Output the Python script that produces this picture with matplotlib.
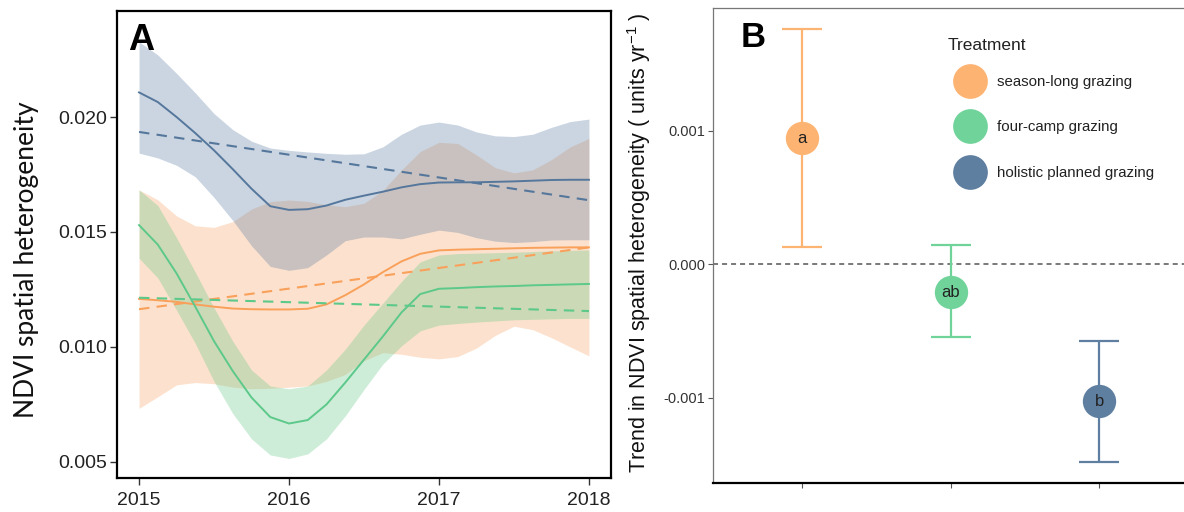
import matplotlib.pyplot as plt
from matplotlib.lines import Line2D

plt.rcParams['mathtext.fontset'] = 'custom'
plt.rcParams['mathtext.rm'] = 'Liberation Sans'
plt.rcParams['mathtext.it'] = 'Liberation Sans:italic'

# ---- panel A: smoothed NDVI heterogeneity over time ----
years = [2015.0, 2015.125, 2015.25, 2015.375, 2015.5, 2015.625, 2015.75, 2015.875,
         2016.0, 2016.125, 2016.25, 2016.375, 2016.5, 2016.625, 2016.75, 2016.875,
         2017.0, 2017.125, 2017.25, 2017.375, 2017.5, 2017.625, 2017.75, 2017.875, 2018.0]

season_fit = [0.01209, 0.01203, 0.01196, 0.01185, 0.01175, 0.01167, 0.01164, 0.01163,
              0.01163, 0.01166, 0.01185, 0.01225, 0.01272, 0.01325, 0.01372, 0.01405,
              0.01420, 0.01423, 0.01425, 0.01427, 0.01429, 0.01431, 0.01432, 0.01433, 0.01433]
season_hi = [0.01683, 0.01640, 0.01570, 0.01527, 0.01520, 0.01545, 0.01600, 0.01632,
             0.01639, 0.01633, 0.01618, 0.01610, 0.01625, 0.01680, 0.01770, 0.01850,
             0.01890, 0.01885, 0.01835, 0.01780, 0.01757, 0.01770, 0.01815, 0.01870, 0.01907]
season_lo = [0.00733, 0.00783, 0.00835, 0.00845, 0.00840, 0.00825, 0.00818, 0.00820,
             0.00825, 0.00830, 0.00850, 0.00880, 0.00940, 0.00975, 0.00968, 0.00955,
             0.00948, 0.00958, 0.00995, 0.01050, 0.01090, 0.01075, 0.01040, 0.01000, 0.00961]

fourcamp_fit = [0.01530, 0.01445, 0.01320, 0.01175, 0.01025, 0.00895, 0.00780, 0.00695,
                0.00667, 0.00682, 0.00750, 0.00845, 0.00945, 0.01045, 0.01150, 0.01230,
                0.01253, 0.01256, 0.01260, 0.01263, 0.01265, 0.01268, 0.01270, 0.01272, 0.01274]
fourcamp_hi = [0.01683, 0.01615, 0.01475, 0.01325, 0.01170, 0.01025, 0.00900, 0.00830,
               0.00818, 0.00830, 0.00900, 0.00990, 0.01095, 0.01190, 0.01285, 0.01370,
               0.01400, 0.01406, 0.01408, 0.01410, 0.01412, 0.01415, 0.01418, 0.01420, 0.01422]
fourcamp_lo = [0.01386, 0.01300, 0.01160, 0.01015, 0.00850, 0.00710, 0.00600, 0.00530,
               0.00515, 0.00535, 0.00600, 0.00700, 0.00815, 0.00925, 0.01005, 0.01070,
               0.01095, 0.01102, 0.01108, 0.01113, 0.01118, 0.01120, 0.01122, 0.01124, 0.01124]

holistic_fit = [0.02107, 0.02065, 0.02000, 0.01930, 0.01855, 0.01773, 0.01688, 0.01612,
                0.01596, 0.01599, 0.01615, 0.01640, 0.01658, 0.01675, 0.01694, 0.01708,
                0.01715, 0.01716, 0.01716, 0.01718, 0.01720, 0.01723, 0.01726, 0.01727, 0.01727]
holistic_hi = [0.02327, 0.02270, 0.02190, 0.02105, 0.02015, 0.01945, 0.01895, 0.01865,
               0.01855, 0.01848, 0.01842, 0.01838, 0.01840, 0.01870, 0.01925, 0.01965,
               0.01978, 0.01965, 0.01935, 0.01918, 0.01915, 0.01925, 0.01955, 0.01980, 0.01991]
holistic_lo = [0.01843, 0.01822, 0.01790, 0.01740, 0.01650, 0.01550, 0.01440, 0.01350,
               0.01333, 0.01345, 0.01400, 0.01462, 0.01478, 0.01478, 0.01470, 0.01490,
               0.01508, 0.01498, 0.01475, 0.01460, 0.01454, 0.01458, 0.01465, 0.01466, 0.01466]

# linear trends (dashed)
trend_years = [2015.0, 2018.0]
season_lin = [0.01164, 0.01433]
fourcamp_lin = [0.01214, 0.01156]
holistic_lin = [0.01935, 0.01638]

# ---- panel B: trend estimates ----
treatments = ['season-long grazing', 'four-camp grazing', 'holistic planned grazing']
letters = ['a', 'ab', 'b']
slope = [0.000943, -0.000212, -0.001025]
slope_lo = [0.000129, -0.000549, -0.001479]
slope_hi = [0.001762, 0.000147, -0.000573]

pt_colors = ['#FDB473', '#6FD39A', '#5F7FA0']
band_colors = ['#F8A25F', '#5FC680', '#52769E']
line_colors = ['#F9A05A', '#5CC98A', '#56779C']

fig = plt.figure(figsize=(11.84, 5.12), dpi=100)
W, H = 1184, 512
axA = fig.add_axes([117 / W, 34 / H, 494 / W, 467 / H])
axB = fig.add_axes([712.7 / W, 29.3 / H, 475.8 / W, 474.4 / H])

fits = [season_fit, fourcamp_fit, holistic_fit]
his = [season_hi, fourcamp_hi, holistic_hi]
los = [season_lo, fourcamp_lo, holistic_lo]
lins = [season_lin, fourcamp_lin, holistic_lin]

for hi, lo, bc in zip(his, los, band_colors):
    axA.fill_between(years, lo, hi, color=bc, alpha=0.3, lw=0)
for fit, lin, lc in zip(fits, lins, line_colors):
    axA.plot(years, fit, color=lc, lw=1.4)
    axA.plot(trend_years, lin, color=lc, lw=1.5, ls=(0, (5, 3.5)))

axA.set_xlim(2014.853, 2018.147)
axA.set_ylim(0.0043, 0.02461)
axA.set_xticks([2015, 2016, 2017, 2018])
axA.set_yticks([0.005, 0.010, 0.015, 0.020])
axA.set_yticklabels(['0.005', '0.010', '0.015', '0.020'])
axA.tick_params(length=5, width=1, color='#333333', labelsize=14, labelcolor='#222222', pad=2)
axA.tick_params(axis='x', pad=5)
for lab in axA.get_xticklabels() + axA.get_yticklabels():
    lab.set_family('Liberation Sans')
for sp in axA.spines.values():
    sp.set_linewidth(1.6)
    sp.set_color('black')

fig.text(128 / W, 1 - 50 / H, 'A', weight='bold', size=26, family='Liberation Sans',
         va='baseline', ha='left')
fig.text(27 / W, 1 - 260 / H, 'NDVI spatial heterogeneity', rotation=90, size=19,
         family='Lato', ha='center', va='center', color='#111111')

# panel B
axB.axhline(0, color='#555555', lw=1.1, ls=(0, (3.3, 2.6)), zorder=1)
xpos = [1, 2, 3]
for x, m, lo, hi, c in zip(xpos, slope, slope_lo, slope_hi, pt_colors):
    axB.errorbar([x], [m], yerr=[[m - lo], [hi - m]], fmt='none', ecolor=c,
                 elinewidth=1.6, capsize=14.4, capthick=1.6, zorder=2)
    axB.plot([x], [m], 'o', color=c, ms=24, mec='none', zorder=3)
for x, m, t in zip(xpos, slope, letters):
    axB.text(x, m, t, ha='center', va='center', fontsize=12, color='#222222',
             family='Liberation Sans', zorder=4)

axB.set_xlim(0.4, 3.6)
axB.set_ylim(-0.001637, 0.001917)
axB.set_xticks(xpos)
axB.set_xticklabels([])
axB.set_yticks([-0.001, 0.0, 0.001])
axB.set_yticklabels(['-0.001', '0.000', '0.001'])
axB.tick_params(length=3.3, width=0.8, color='#555555', labelsize=10.5,
                labelcolor='#333333', pad=2)
for lab in axB.get_yticklabels():
    lab.set_family('Liberation Sans')
axB.spines['right'].set_visible(False)
for s in ['left', 'top']:
    axB.spines[s].set_color('#777777')
    axB.spines[s].set_linewidth(0.9)
axB.spines['bottom'].set_color('black')
axB.spines['bottom'].set_linewidth(1.6)

fig.text(741 / W, 1 - 47 / H, 'B', weight='bold', size=25, family='Liberation Sans',
         va='baseline', ha='left')
fig.text(639 / W, 1 - 243 / H, r'Trend in NDVI spatial heterogeneity ( units yr$^{-1}$ )',
         rotation=90, size=15.5, family='Liberation Sans', ha='center', va='center',
         color='#111111')

# legend (title placed as its own text so the row spacing can match)
handles = [Line2D([], [], ls='none', marker='o', ms=25, color=c, mec='none')
           for c in pt_colors]
leg = axB.legend(handles, treatments, loc='upper left',
                 bbox_to_anchor=(946.8 / W, 1 - 69 / H), bbox_transform=fig.transFigure,
                 frameon=False, handlelength=2.3, handletextpad=0.65,
                 labelspacing=2.1, borderpad=0.4, borderaxespad=0,
                 prop={'family': 'Liberation Sans', 'size': 10.8})
for t in leg.get_texts():
    t.set_color('#222222')
fig.text(948 / W, 1 - 45 / H, 'Treatment', size=12.5, family='Liberation Sans',
         ha='left', va='center', color='#222222')

fig.savefig('out.png', dpi=100)
